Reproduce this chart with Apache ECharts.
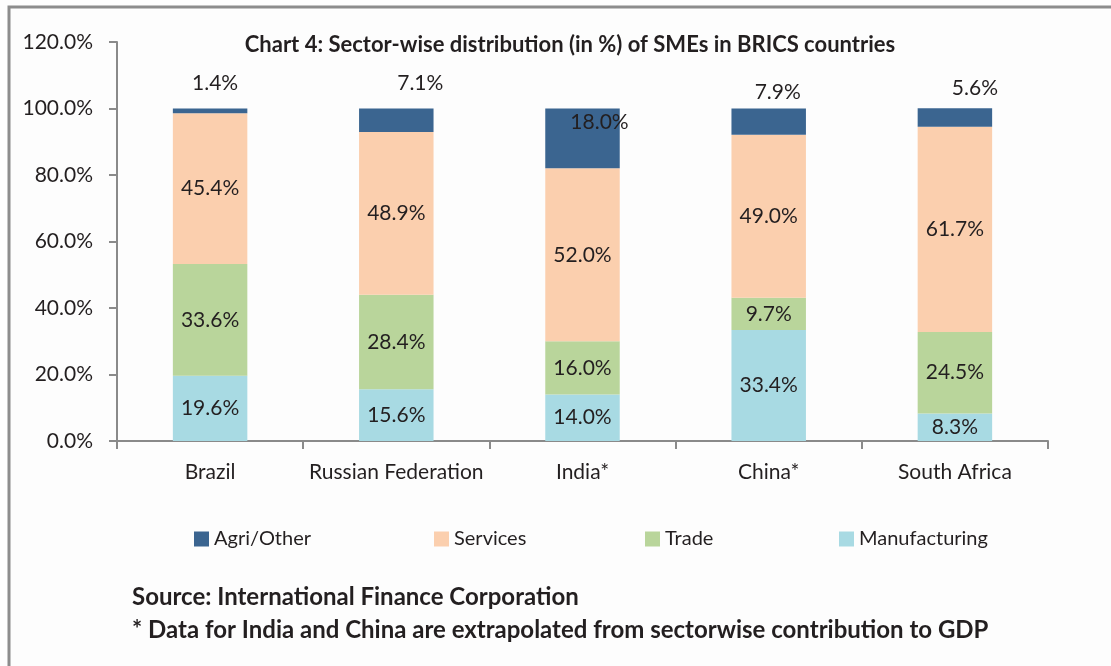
<!DOCTYPE html>
<html>
<head>
<meta charset="utf-8">
<script src="https://cdn.jsdelivr.net/npm/echarts@6/dist/echarts.min.js"></script>
<style>
  html, body { margin: 0; padding: 0; background: #fff; }
  #chart { width: 1111px; height: 666px; }
</style>
</head>
<body>
<div id="chart"></div>
<script>
// categories and series (stack from bottom up)
let countries = ['Brazil', 'Russian Federation', 'India*', 'China*', 'South Africa'];
let manufacturing = [19.6, 15.6, 14.0, 33.4, 8.3];
let trade = [33.6, 28.4, 16.0, 9.7, 24.5];
let services = [45.4, 48.9, 52.0, 49.0, 61.7];
let agriOther = [1.4, 7.1, 18.0, 7.9, 5.6];
let yTicks = [0, 20, 40, 60, 80, 100, 120];

// where the Agri/Other labels sit (Excel put them slightly off)
let agriLabelNudge = [[5, -15], [24, -15], [17, 0], [9, -6], [20, -9]];

let font = 'Lato';
let txt = '#231f20';

let myChart = echarts.init(document.getElementById('chart'));

function segLabel() {
    return {
        show: true,
        position: 'inside',
        fontFamily: font,
        fontSize: 21,
        color: txt,
        formatter: function (p) { return p.value.toFixed(1) + '%'; }
    };
}

let agriData = agriOther.map(function (v, i) {
    let inside = i === 2;
    return {
        value: v,
        label: {
            position: inside ? 'insideTop' : 'top',
            distance: inside ? 3 : 0,
            offset: agriLabelNudge[i]
        }
    };
});

let colors = {
    agri: '#3b6590',
    services: '#fbcfae',
    trade: '#b9d59b',
    manuf: '#a8dae3'
};

function legendAt(name, left) {
    return {
        data: [name],
        left: left,
        top: 524,
        itemWidth: 15,
        itemHeight: 15,
        itemGap: 4,
        icon: 'rect',
        textStyle: { fontFamily: font, fontSize: 20, color: txt }
    };
}

let option = {
    backgroundColor: '#fdfdfd',
    animation: false,
    title: {
        text: 'Chart 4: Sector-wise distribution (in %) of SMEs in BRICS countries',
        left: 565,
        textAlign: 'center',
        top: 29,
        textStyle: { fontFamily: font, fontSize: 22, fontWeight: 'bold', color: txt }
    },
    legend: [
        legendAt('Agri/Other', 189),
        legendAt('Services', 429),
        legendAt('Trade', 640),
        legendAt('Manufacturing', 834)
    ],
    grid: { left: 117, right: 63, top: 42, bottom: 225 },
    xAxis: {
        type: 'category',
        data: countries,
        axisLine: { lineStyle: { color: '#8a8a8a', width: 2 } },
        axisTick: { show: true, length: 8, lineStyle: { color: '#8a8a8a', width: 2 } },
        axisLabel: { interval: 0, fontFamily: font, fontSize: 21, color: txt, margin: 21 }
    },
    yAxis: {
        type: 'value',
        min: yTicks[0],
        max: yTicks[yTicks.length - 1],
        interval: yTicks[1] - yTicks[0],
        axisLine: { show: true, lineStyle: { color: '#8a8a8a', width: 2 } },
        axisTick: { show: true, length: 8, lineStyle: { color: '#8a8a8a', width: 2 } },
        splitLine: { show: false },
        axisLabel: {
            fontFamily: font, fontSize: 21, color: txt, margin: 24,
            formatter: function (v) { return v.toFixed(1) + '%'; }
        }
    },
    graphic: [
        {
            type: 'polyline',
            shape: { points: [[9, 666], [9, 7], [1111, 7]] },
            style: { stroke: '#8c8c8c', lineWidth: 3, fill: null }
        },
        {
            type: 'text',
            left: 132,
            top: 585,
            style: {
                text: 'Source: International Finance Corporation',
                font: 'bold 24px Lato',
                fill: txt
            }
        },
        {
            type: 'text',
            left: 132,
            top: 618,
            style: {
                text: '* Data for India and China are extrapolated from sectorwise contribution to GDP',
                font: 'bold 24px Lato',
                fill: txt
            }
        }
    ],
    series: [
        {
            name: 'Manufacturing', type: 'bar', stack: 'all', barWidth: '40%',
            itemStyle: { color: colors.manuf },
            label: segLabel(),
            data: manufacturing
        },
        {
            name: 'Trade', type: 'bar', stack: 'all',
            itemStyle: { color: colors.trade },
            label: segLabel(),
            data: trade
        },
        {
            name: 'Services', type: 'bar', stack: 'all',
            itemStyle: { color: colors.services },
            label: segLabel(),
            data: services
        },
        {
            name: 'Agri/Other', type: 'bar', stack: 'all',
            itemStyle: { color: colors.agri },
            label: segLabel(),
            data: agriData
        }
    ]
};

myChart.setOption(option);
</script>
</body>
</html>
